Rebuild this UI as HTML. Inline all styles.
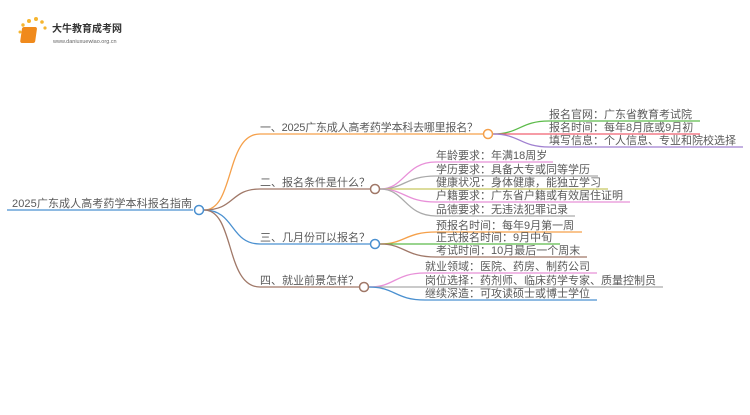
<!DOCTYPE html>
<html><head><meta charset="utf-8"><style>
body{margin:0;width:750px;height:410px;background:#fff;overflow:hidden}
text{font-family:"Liberation Sans","Noto Sans CJK SC",sans-serif;font-size:11px;fill:#5a5a5a}
</style></head><body>
<svg width="750" height="410" viewBox="0 0 750 410" fill="none" stroke-width="1.3">
<g>
<circle cx="20" cy="32" r="1.5" fill="#f5b530" stroke="none"/>
<circle cx="23" cy="25" r="1.7" fill="#f5b530" stroke="none"/>
<circle cx="29" cy="21" r="2" fill="#f5b530" stroke="none"/>
<circle cx="36" cy="19" r="2" fill="#f5b530" stroke="none"/>
<circle cx="42" cy="22" r="1.8" fill="#f5b530" stroke="none"/>
<circle cx="45" cy="28" r="1.6" fill="#f5b530" stroke="none"/>
<rect x="26" y="27" width="15" height="16" rx="2" fill="#f08a1c" stroke="none" transform="skewX(-8)"/>
<text x="52" y="32" style="font-size:10px;fill:#333;font-weight:bold">大牛教育成考网</text>
<text x="53" y="43" style="font-size:5.5px;fill:#666">www.daniuxuewiao.org.cn</text>
</g>
<path d="M7 210 H193" stroke="#4a90d0"/>
<text x="12" y="207" textLength="180">2025广东成人高考药学本科报名指南</text>
<path d="M204 210 C235 210 225 134 260 134 H483" stroke="#f5a04a"/>
<path d="M204 210 C235 210 230 189 260 189 H370" stroke="#a07868"/>
<path d="M204 210 C235 210 230 244 260 244 H370" stroke="#4a90d0"/>
<path d="M204 210 C235 210 225 287 260 287 H359" stroke="#a07868"/>
<circle cx="199" cy="210" r="4.5" fill="#fff" stroke="#4a90d0" stroke-width="1.5"/>
<text x="260" y="131" textLength="218">一、2025广东成人高考药学本科去哪里报名？</text>
<path d="M493 134 C520 134 520 121 549 121 H700" stroke="#5cbb4a"/>
<path d="M493 134 H700" stroke="#f06070"/>
<path d="M493 134 C520 134 520 147 549 147 H743" stroke="#a080d0"/>
<circle cx="488" cy="134" r="4.5" fill="#fff" stroke="#f5a04a" stroke-width="1.5"/>
<text x="549" y="118">报名官网：广东省教育考试院</text>
<text x="549" y="131">报名时间：每年8月底或9月初</text>
<text x="549" y="144">填写信息：个人信息、专业和院校选择</text>
<text x="260" y="186">二、报名条件是什么？</text>
<path d="M380 189 C405 189 405 162 436 162 H553" stroke="#e890d8"/>
<path d="M380 189 C405 189 405 176 436 176 H598" stroke="#aaa"/>
<path d="M380 189 H608" stroke="#c8c860"/>
<path d="M380 189 C405 189 405 202 436 202 H630" stroke="#e890d8"/>
<path d="M380 189 C405 189 405 216 436 216 H575" stroke="#aaa"/>
<circle cx="375" cy="189" r="4.5" fill="#fff" stroke="#a07868" stroke-width="1.5"/>
<text x="436" y="159">年龄要求：年满18周岁</text>
<text x="436" y="173">学历要求：具备大专或同等学历</text>
<text x="436" y="186">健康状况：身体健康，能独立学习</text>
<text x="436" y="199">户籍要求：广东省户籍或有效居住证明</text>
<text x="436" y="213">品德要求：无违法犯罪记录</text>
<text x="260" y="241">三、几月份可以报名？</text>
<path d="M380 244 C405 244 405 232 436 232 H582" stroke="#f5a04a"/>
<path d="M380 244 H560" stroke="#5cbb4a"/>
<path d="M380 244 C405 244 405 257 436 257 H587" stroke="#a07868"/>
<circle cx="375" cy="244" r="4.5" fill="#fff" stroke="#4a90d0" stroke-width="1.5"/>
<text x="436" y="229">预报名时间：每年9月第一周</text>
<text x="436" y="241">正式报名时间：9月中旬</text>
<text x="436" y="254">考试时间：10月最后一个周末</text>
<text x="260" y="284">四、就业前景怎样？</text>
<path d="M369 287 C395 287 395 273 425 273 H597" stroke="#e890d8"/>
<path d="M369 287 H663" stroke="#aaa"/>
<path d="M369 287 C395 287 395 300 425 300 H597" stroke="#4a90d0"/>
<circle cx="364" cy="287" r="4.5" fill="#fff" stroke="#a07868" stroke-width="1.5"/>
<text x="425" y="270">就业领域：医院、药房、制药公司</text>
<text x="425" y="284">岗位选择：药剂师、临床药学专家、质量控制员</text>
<text x="425" y="297">继续深造：可攻读硕士或博士学位</text>
</svg>
</body></html>
